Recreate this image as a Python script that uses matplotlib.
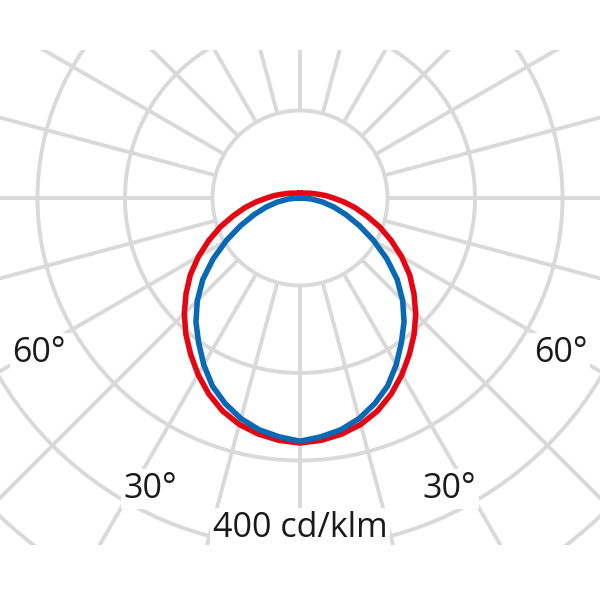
"""
Polar light distribution curve (cd/klm).
"""

import numpy as np
import matplotlib
matplotlib.use("Agg")
import matplotlib.pyplot as plt
from matplotlib.patches import Circle


# gamma angles (0 = straight down), one half of the curve, mirrored below
angles = [0, 5, 10, 15, 20, 25, 30, 35, 40, 45, 50, 55, 60, 65, 70, 75,
          80, 85, 90, 95, 100, 110, 120, 130, 140, 150, 160, 170, 180]

# C0-C180 plane (red)
red_cdklm = [280, 278, 274, 268, 259, 247, 233, 218, 203, 187, 170, 153,
             134, 115, 97, 79, 64, 50, 38, 30, 23, 15, 11, 8.6, 7.1, 6.4,
             5.9, 5.7, 5.7]

# C90-C270 plane (blue)
blue_cdklm = [278, 274, 269, 261, 250, 237, 220, 202, 185, 166, 145, 121,
              97, 75, 56, 40, 26, 13, 2, 0, 0, 0, 0, 0, 0, 0, 0, 0, 0]

ring_values = [100, 200, 300, 400, 500, 600]
ray_step = 15

angle_labels = ["60°", "30°", "30°", "60°"]
angle_label_xy = [(-298, -187), (-171, -343), (171, -343), (298, -187)]
scale_label = "400 cd/klm"

RED = "#e30613"
BLUE = "#0a69b4"
GRID = "#d9d9d9"


def to_xy(theta_deg, r):
    t = np.radians(theta_deg)
    return r * np.sin(t), -r * np.cos(t)


def full_curve(vals):
    a = np.array(angles, dtype=float)
    v = np.array(vals, dtype=float)
    theta = np.concatenate([-a[::-1], a[1:]])
    r = np.concatenate([v[::-1], v[1:]])
    return to_xy(theta, r)


fig = plt.figure(figsize=(6, 6), dpi=100)
ax = fig.add_axes([0, 55 / 600, 1, 495 / 600])
ax.set_xlim(-342.86, 342.86)
ax.set_ylim(-396.6, 169.1)
ax.set_aspect("auto")
ax.axis("off")

# grid rings
for rv in ring_values:
    ax.add_patch(Circle((0, 0), rv, fill=False, edgecolor=GRID, lw=2.8,
                        zorder=1))

# grid rays, starting at the first ring
for a in range(0, 360, ray_step):
    x0, y0 = to_xy(a, ring_values[0])
    x1, y1 = to_xy(a, 900)
    ax.plot([x0, x1], [y0, y1], color=GRID, lw=2.8, zorder=1,
            solid_capstyle="butt")

# curves
xr, yr = full_curve(red_cdklm)
ax.plot(xr, yr, color=RED, lw=4.0, zorder=3, solid_joinstyle="round")
xb, yb = full_curve(blue_cdklm)
ax.plot(xb, yb, color=BLUE, lw=4.0, zorder=4, solid_joinstyle="round")

font = dict(family=["Open Sans", "DejaVu Sans"], fontsize=24.5,
            color="#1a1a1a")
box = dict(boxstyle="square,pad=0.08", facecolor="white", edgecolor="none")

for txt, (x, y) in zip(angle_labels, angle_label_xy):
    ax.text(x, y, txt, ha="center", va="baseline", bbox=box, zorder=5,
            **font)

ax.text(0, -387.4, scale_label, ha="center", va="baseline", bbox=box,
        zorder=5, **font)

fig.savefig("out.png", dpi=100, facecolor="white")
